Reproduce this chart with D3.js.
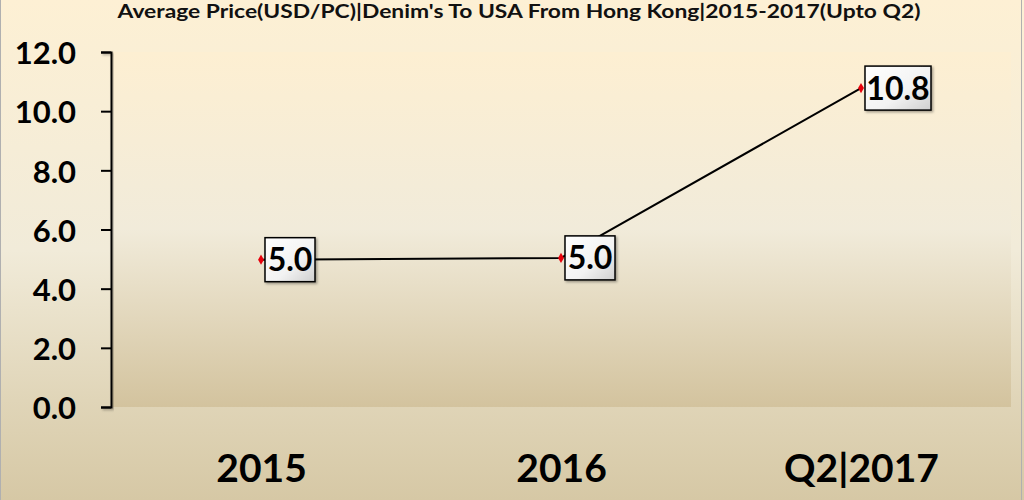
<!DOCTYPE html>
<html><head><meta charset="utf-8">
<script src="https://cdn.jsdelivr.net/npm/d3@7"></script>
<style>html,body{margin:0;padding:0;background:#fff;}svg{display:block;}</style>
</head><body>
<script>
const title = "Average Price(USD/PC)|Denim's To USA From Hong Kong|2015-2017(Upto Q2)";
const categories = ["2015", "2016", "Q2|2017"];
const values = [4.98, 5.04, 10.78];
const valueLabels = ["5.0", "5.0", "10.8"];
const yTicks = [0, 2, 4, 6, 8, 10, 12];

const W = 1024, H = 500;
const svg = d3.select("body").append("svg").attr("width", W).attr("height", H);
const defs = svg.append("defs");

const bg = defs.append("linearGradient").attr("id", "bg").attr("x1", 0).attr("y1", 0).attr("x2", 0).attr("y2", 1);
bg.append("stop").attr("offset", "0%").attr("stop-color", "#fdf0d4");
bg.append("stop").attr("offset", "50%").attr("stop-color", "#f1ebd9");
bg.append("stop").attr("offset", "80%").attr("stop-color", "#e0d5b8");
bg.append("stop").attr("offset", "100%").attr("stop-color", "#d6c8a5");

const pg = defs.append("linearGradient").attr("id", "pg").attr("x1", 0).attr("y1", 0).attr("x2", 0).attr("y2", 1);
pg.append("stop").attr("offset", "0%").attr("stop-color", "#fdefd2");
pg.append("stop").attr("offset", "50%").attr("stop-color", "#f1ebda");
pg.append("stop").attr("offset", "100%").attr("stop-color", "#d3c39e");

const lg = defs.append("linearGradient").attr("id", "lg").attr("x1", 0).attr("y1", 0).attr("x2", 1).attr("y2", 1);
lg.append("stop").attr("offset", "0%").attr("stop-color", "#ffffff");
lg.append("stop").attr("offset", "60%").attr("stop-color", "#f2f2f2");
lg.append("stop").attr("offset", "100%").attr("stop-color", "#cfcfcf");

const sh = defs.append("filter").attr("id", "sh").attr("x", "-10%").attr("y", "-10%").attr("width", "130%").attr("height", "130%");
sh.append("feDropShadow").attr("dx", 1.5).attr("dy", 1.5).attr("stdDeviation", 1).attr("flood-color", "#000").attr("flood-opacity", 0.35);

svg.append("rect").attr("x", 0).attr("y", 0).attr("width", W).attr("height", H).attr("fill", "url(#bg)");
svg.append("line").attr("x1", 0.5).attr("x2", 0.5).attr("y1", 0).attr("y2", H).attr("stroke", "#b0b0b0");
svg.append("line").attr("x1", 1021.5).attr("x2", 1021.5).attr("y1", 0).attr("y2", H).attr("stroke", "#b0b0b0");

const pLeft = 111, pRight = 1011, pTop = 52, pBottom = 407;
svg.append("rect").attr("x", pLeft).attr("y", pTop).attr("width", pRight - pLeft).attr("height", pBottom - pTop).attr("fill", "url(#pg)");

const x = d3.scalePoint().domain(categories).range([pLeft, pRight]).padding(0.5);
const y = d3.scaleLinear().domain([0, 12]).range([pBottom, pTop]);

svg.append("text").attr("x", 519).attr("y", 18).attr("text-anchor", "middle")
  .attr("font-family", "Lato, 'Open Sans', sans-serif").attr("font-weight", "bold").attr("font-size", 18)
  .attr("textLength", 803).attr("lengthAdjust", "spacingAndGlyphs")
  .attr("fill", "#111").text(title);

// Y axis
const yAxis = svg.append("g").attr("transform", `translate(${pLeft},0)`)
  .call(d3.axisLeft(y).tickValues(yTicks).tickFormat(d3.format(".1f")).tickSize(10).tickPadding(25));
yAxis.select(".domain").attr("stroke", "#000").attr("stroke-width", 2).attr("filter", "url(#sh)");
yAxis.selectAll(".tick line").attr("stroke", "#000").attr("stroke-width", 2);
yAxis.selectAll(".tick text").attr("font-family", "Lato, sans-serif").attr("font-weight", "bold")
  .attr("font-size", 31).attr("fill", "#000").attr("dy", "0.38em");

// X axis
const xAxis = svg.append("g").attr("transform", `translate(0,${pBottom})`)
  .call(d3.axisBottom(x).tickSize(0).tickPadding(47));
xAxis.select(".domain").attr("stroke", "#000").attr("stroke-width", 3).attr("filter", "url(#sh)")
  .attr("d", `M${pLeft - 10},0H${pRight}`);
xAxis.selectAll(".tick text").attr("font-family", "Lato, sans-serif").attr("font-weight", "bold")
  .attr("font-size", 39).attr("fill", "#000").attr("dy", "0.71em");

// Line
const pts = categories.map((c, i) => ({c, v: values[i], l: valueLabels[i]}));
svg.append("path").datum(pts)
  .attr("d", d3.line().x(d => x(d.c)).y(d => y(d.v)))
  .attr("fill", "none").attr("stroke", "#000").attr("stroke-width", 2);

// Labels
const lab = svg.selectAll(".lab").data(pts).enter().append("g").attr("class", "lab")
  .attr("transform", d => `translate(${x(d.c) + 4},${y(d.v)})`);
lab.append("rect").attr("x", 0).attr("y", -22)
  .attr("width", d => d.l.length > 3 ? 66 : 50).attr("height", 44)
  .attr("fill", "url(#lg)").attr("stroke", "#000").attr("stroke-width", 1.5).attr("filter", "url(#sh)");
lab.append("text").attr("x", d => (d.l.length > 3 ? 66 : 50) / 2).attr("y", 0).attr("dy", "0.36em")
  .attr("text-anchor", "middle").attr("font-family", "Lato, sans-serif").attr("font-weight", "bold")
  .attr("font-size", 32).attr("fill", "#000").text(d => d.l);

// Markers
svg.selectAll(".mk").data(pts).enter().append("path")
  .attr("d", d3.symbol(d3.symbolDiamond, 30)())
  .attr("transform", d => `translate(${x(d.c)},${y(d.v)})`)
  .attr("fill", "#e8000b");
</script>
</body></html>
